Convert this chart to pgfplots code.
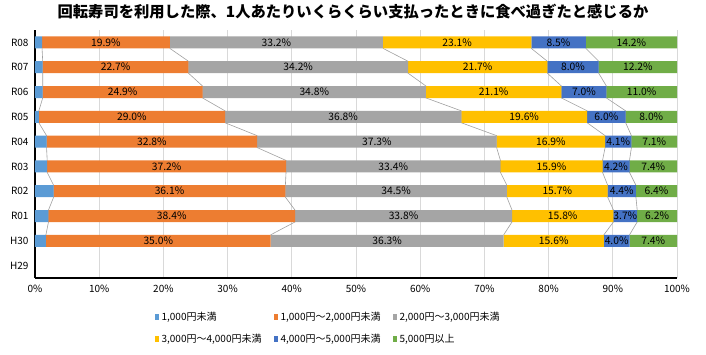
\documentclass[border=0pt]{standalone}
\usepackage{pgfplots}
\usepackage{pgfplotstable}
\pgfplotsset{compat=1.18}
\usepackage{fontspec}
\setmainfont{Noto Sans CJK JP}
\definecolor{c1}{HTML}{5B9BD5}
\definecolor{c2}{HTML}{ED7D31}
\definecolor{c3}{HTML}{A5A5A5}
\definecolor{c4}{HTML}{FFC000}
\definecolor{c5}{HTML}{4472C4}
\definecolor{c6}{HTML}{70AD47}
\definecolor{gridc}{HTML}{D9D9D9}
\definecolor{serc}{HTML}{A0A0A0}

% y: 9=R08 ... 1=H30, 0=H29 (no data)
\pgfplotstableread{
y a b c d e f
9 1.1 19.9 33.2 23.1 8.5 14.2
8 1.2 22.7 34.2 21.7 8.0 12.2
7 1.2 24.9 34.8 21.1 7.0 11.0
6 0.6 29.0 36.8 19.6 6.0 8.0
5 1.8 32.8 37.3 16.9 4.1 7.1
4 1.9 37.2 33.4 15.9 4.2 7.4
3 2.9 36.1 34.5 15.7 4.4 6.4
2 2.1 38.4 33.8 15.8 3.7 6.2
1 1.7 35.0 36.3 15.6 4.0 7.4
}\data

% series lines (cumulative boundaries, bottom edge of one bar to top edge of next)
\pgfplotstableread{
yy k1 k2 k3 k4 k5
8.76 1.1 21.0 54.2 77.3 85.8
8.24 1.2 23.9 58.1 79.8 87.8
7.76 1.2 23.9 58.1 79.8 87.8
7.24 1.2 26.1 60.9 82.0 89.0
6.76 1.2 26.1 60.9 82.0 89.0
6.24 0.6 29.6 66.4 86.0 92.0
5.76 0.6 29.6 66.4 86.0 92.0
5.24 1.8 34.6 71.9 88.8 92.9
4.76 1.8 34.6 71.9 88.8 92.9
4.24 1.9 39.1 72.5 88.4 92.6
3.76 1.9 39.1 72.5 88.4 92.6
3.24 2.9 39.0 73.5 89.2 93.6
2.76 2.9 39.0 73.5 89.2 93.6
2.24 2.1 40.5 74.3 90.1 93.8
1.76 2.1 40.5 74.3 90.1 93.8
1.24 1.7 36.7 73.0 88.6 92.6
}\serlines

\pgfplotsset{
  common/.style={at={(0pt,0pt)}, anchor=south west,
    width=642pt, height=248pt, scale only axis,
    xmin=0, xmax=100, ymin=-0.5, ymax=9.5},
  lbl/.style={draw=none, mark=none, point meta=explicit,
    nodes near coords={\pgfmathprintnumber[fixed,fixed zerofill,precision=1]{\pgfplotspointmeta}\%},
    every node near coord/.style={anchor=center, inner sep=0pt, black,
      font=\fontsize{10.3}{11}\selectfont}},
}

\begin{document}
\begin{tikzpicture}
\useasboundingbox (-35pt,-76pt) rectangle (671pt,278pt);
\node[font=\bfseries\fontsize{15.3}{18}\selectfont] at (318pt,266pt)
  {回転寿司を利用した際、1人あたりいくらくらい支払ったときに食べ過ぎたと感じるか};
% background: grid + series lines
\begin{axis}[common,
  xtick={0,10,...,100}, xticklabels={}, ytick=\empty,
  major tick length=0pt,
  xmajorgrids, grid style={gridc, line width=0.9pt},
  axis line style={draw=none},
]
\addplot[serc, line width=0.6pt, no marks] table[x=k1,y=yy]{\serlines};
\addplot[serc, line width=0.6pt, no marks] table[x=k2,y=yy]{\serlines};
\addplot[serc, line width=0.6pt, no marks] table[x=k3,y=yy]{\serlines};
\addplot[serc, line width=0.6pt, no marks] table[x=k4,y=yy]{\serlines};
\addplot[serc, line width=0.6pt, no marks] table[x=k5,y=yy]{\serlines};
\end{axis}
% bars
\begin{axis}[common,
  xbar stacked, bar width=12pt,
  xtick={0,10,...,100},
  xticklabel={\pgfmathprintnumber{\tick}\%},
  /pgf/number format/assume math mode=true,
  ytick={0,1,...,9},
  yticklabels={H29,H30,R01,R02,R03,R04,R05,R06,R07,R08},
  tick label style={font=\fontsize{10}{11}\selectfont},
  xticklabel style={yshift=-4pt},
  yticklabel style={xshift=-3pt},
  major tick length=0pt,
  axis x line*=bottom, axis y line*=left,
  axis line style={black, line width=1.6pt, -},
  legend columns=3,
  legend cell align=left,
  legend style={at={(axis description cs:0.186,-0.13)}, anchor=north west,
    draw=none, fill=none, font=\fontsize{10}{12}\selectfont,
    inner sep=0pt, row sep=8pt,
    /tikz/every odd column/.append style={column sep=1pt}},
  legend image code/.code={\fill[#1,draw=none] (0pt,-3pt) rectangle (4pt,3pt);},
]
\addplot[fill=c1, draw=none] table[x=a,y=y]{\data};
\addlegendentry{\makebox[110pt][l]{1,000円未満}}
\addplot[fill=c2, draw=none] table[x=b,y=y]{\data};
\addlegendentry{\makebox[110pt][l]{1,000円～2,000円未満}}
\addplot[fill=c3, draw=none] table[x=c,y=y]{\data};
\addlegendentry{2,000円～3,000円未満}
\addplot[fill=c4, draw=none] table[x=d,y=y]{\data};
\addlegendentry{\makebox[110pt][l]{3,000円～4,000円未満}}
\addplot[fill=c5, draw=none] table[x=e,y=y]{\data};
\addlegendentry{\makebox[110pt][l]{4,000円～5,000円未満}}
\addplot[fill=c6, draw=none] table[x=f,y=y]{\data};
\addlegendentry{5,000円以上}
\end{axis}
% value labels centred in each segment
\begin{axis}[common, hide axis, /pgf/number format/assume math mode=true]
\addplot[lbl] table[x expr=\thisrow{a}+\thisrow{b}/2, y=y, meta=b]{\data};
\addplot[lbl] table[x expr=\thisrow{a}+\thisrow{b}+\thisrow{c}/2, y=y, meta=c]{\data};
\addplot[lbl] table[x expr=\thisrow{a}+\thisrow{b}+\thisrow{c}+\thisrow{d}/2, y=y, meta=d]{\data};
\addplot[lbl] table[x expr=\thisrow{a}+\thisrow{b}+\thisrow{c}+\thisrow{d}+\thisrow{e}/2, y=y, meta=e]{\data};
\addplot[lbl] table[x expr=\thisrow{a}+\thisrow{b}+\thisrow{c}+\thisrow{d}+\thisrow{e}+\thisrow{f}/2, y=y, meta=f]{\data};
\end{axis}
\end{tikzpicture}
\end{document}
